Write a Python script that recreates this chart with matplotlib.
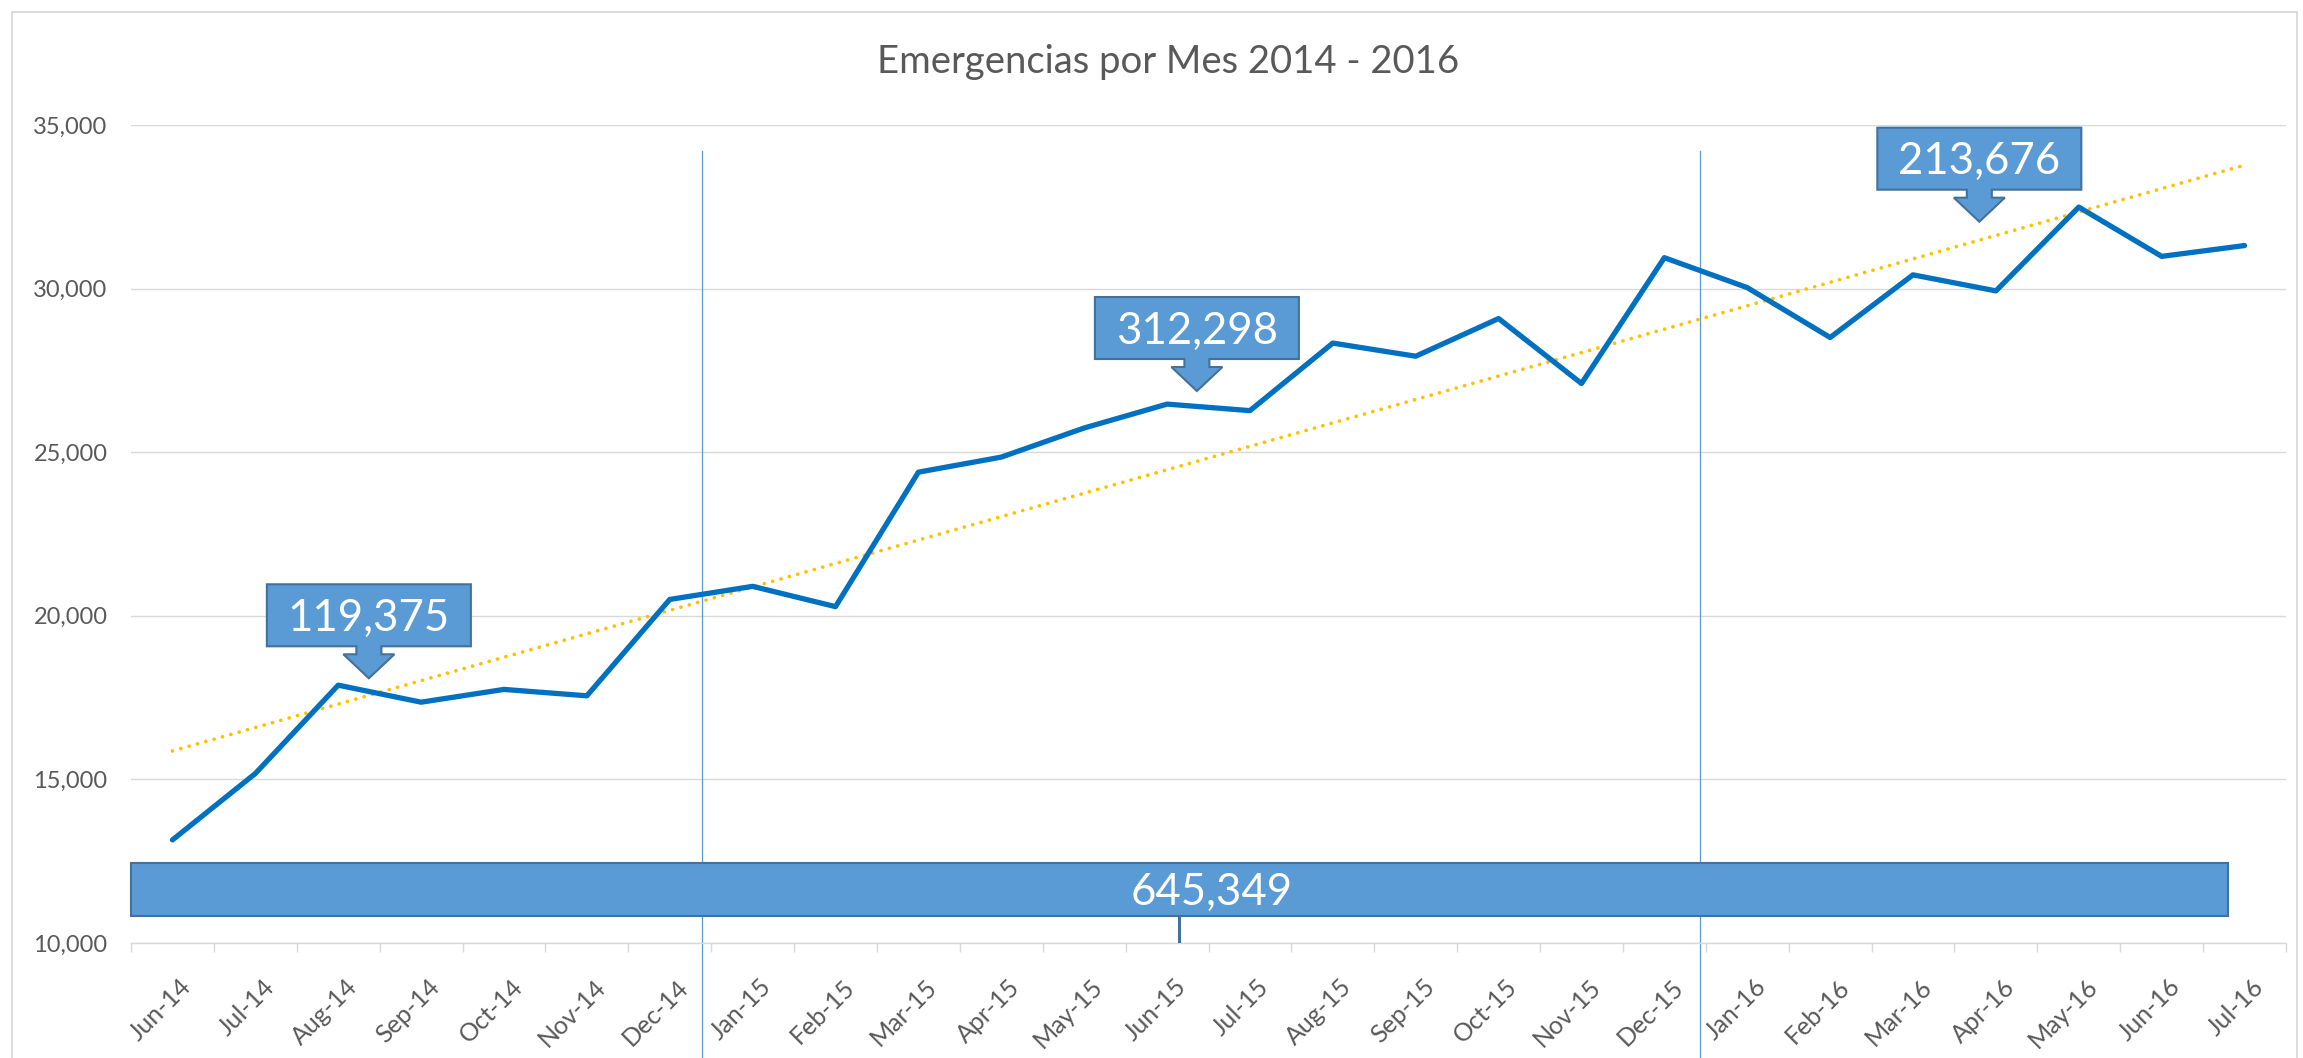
import matplotlib
matplotlib.use("Agg")

import matplotlib.pyplot as plt
import matplotlib.transforms as mtransforms
from matplotlib.patches import Polygon, Rectangle
import numpy as np

# --- Datos ---
meses = ["Jun-14", "Jul-14", "Aug-14", "Sep-14", "Oct-14", "Nov-14", "Dec-14",
         "Jan-15", "Feb-15", "Mar-15", "Apr-15", "May-15", "Jun-15", "Jul-15",
         "Aug-15", "Sep-15", "Oct-15", "Nov-15", "Dec-15",
         "Jan-16", "Feb-16", "Mar-16", "Apr-16", "May-16", "Jun-16", "Jul-16"]
emergencias = [13150, 15180, 17880, 17360, 17750, 17555, 20500,
               20900, 20280, 24390, 24850, 25740, 26470, 26270,
               28335, 27933, 29085, 27100, 30945,
               30030, 28505, 30420, 29930, 32490, 30985, 31316]
meses_por_anio = [7, 12, 7]          # 2014, 2015, 2016
titulo = "Emergencias por Mes 2014 - 2016"

# separadores de año (posición en categorías) y puntas de las flechas
separadores = [6.39, 18.43]
puntas_flecha = [(2.37, 18090), (12.36, 26870), (21.80, 32045)]

# --- Colores ---
azul_linea = "#0070C0"
azul_forma = "#5B9BD5"
azul_borde = "#41719C"
dorado = "#FFC000"
gris_grid = "#D9D9D9"
gris_texto = "#595959"

plt.rcParams['font.family'] = ['Lato', 'DejaVu Sans']

W, H = 2303, 1058
fig = plt.figure(figsize=(W / 100, H / 100), dpi=100)
ax = fig.add_axes([131 / W, 1 - 943 / H, (2286 - 131) / W, 818 / H])

x = np.arange(len(meses))
y = np.array(emergencias)

ax.set_xlim(-0.5, len(meses) - 0.5)
ax.set_ylim(10000, 35000)

# separadores verticales (formas de Excel que se salen del área)
for sx in separadores:
    ax.plot([sx, sx], [34205, 5000], color=azul_forma, lw=0.9, clip_on=False, zorder=1)

# serie principal
ax.plot(x, y, color=azul_linea, lw=3.8, solid_capstyle='round', solid_joinstyle='round', zorder=4)

# línea de tendencia lineal
m, b = np.polyfit(x, y, 1)
ax.plot(x, m * x + b, color=dorado, lw=2.7, linestyle=(0, (0.01, 2.3)),
        dash_capstyle='round', zorder=3)

# --- Ejes ---
ax.set_yticks(np.arange(10000, 35001, 5000))
ax.set_yticklabels([f"{v:,}" for v in range(10000, 35001, 5000)])
ax.grid(axis='y', color=gris_grid, lw=1.0)
ax.set_axisbelow(True)
for s in ['left', 'top', 'right']:
    ax.spines[s].set_visible(False)
ax.spines['bottom'].set_color(gris_grid)
ax.spines['bottom'].set_linewidth(1.0)

ax.set_xticks(np.arange(-0.5, len(meses), 1))
ax.set_xticklabels([])
ax.set_xticks(x, minor=True)
ax.set_xticklabels(meses, minor=True, rotation=45, ha='right', rotation_mode='anchor')
ax.tick_params(axis='x', which='major', length=6.5, width=1.0, color=gris_grid)
ax.tick_params(axis='x', which='minor', length=0, pad=23, labelsize=18, labelcolor=gris_texto)
ax.tick_params(axis='y', length=0, pad=17, labelsize=17, labelcolor=gris_texto)
desplazamiento = mtransforms.ScaledTranslation(0.07, 0, fig.dpi_scale_trans)
for lab in ax.get_xticklabels(minor=True):
    lab.set_transform(lab.get_transform() + desplazamiento)

# título
fig.text(1168 / W, 1 - 62 / H, titulo, ha='center', va='center', fontsize=27.5, color=gris_texto)

# borde del gráfico
fig.patches.append(Rectangle((12 / W, -0.02), (2297 - 12) / W, 1.02 - 12 / H,
                             transform=fig.transFigure, fill=False, ec=gris_grid, lw=1.3))

# --- Totales por año ---
limites = np.cumsum([0] + meses_por_anio)
totales = [int(y[limites[i]:limites[i + 1]].sum()) for i in range(len(meses_por_anio))]
identidad = mtransforms.IdentityTransform()
alto_digito = 31


def flecha(ax, punta, texto):
    px, py = ax.transData.transform(punta)
    bw, bh, gap, cuello, cabeza, tallo = 102, 62, 32, 24, 25.5, 12.5
    verts = [(px - bw, py + gap + bh), (px + bw, py + gap + bh), (px + bw, py + gap),
             (px + tallo, py + gap), (px + tallo, py + cuello), (px + cabeza, py + cuello),
             (px, py), (px - cabeza, py + cuello), (px - tallo, py + cuello),
             (px - tallo, py + gap), (px - bw, py + gap)]
    ax.add_patch(Polygon(verts, closed=True, fc=azul_forma, ec=azul_borde, lw=1.5,
                         transform=identidad, clip_on=False, zorder=6))
    ax.text(px, py + gap + bh / 2 - alto_digito / 2, texto, transform=identidad,
            ha='center', va='baseline', fontsize=31.5, color='white', zorder=7)


for punta, total in zip(puntas_flecha, totales):
    flecha(ax, punta, f"{total:,}")

# barra del total general
barra_x0, barra_x1 = -0.5, 24.80
barra_y0, barra_y1 = 10838, 12430
ax.add_patch(Rectangle((barra_x0, barra_y0), barra_x1 - barra_x0, barra_y1 - barra_y0,
                       fc=azul_forma, ec=azul_borde, lw=1.5, clip_on=False, zorder=6))
ax.plot([12.14, 12.14], [barra_y0, 10073], color=azul_borde, lw=2.2, zorder=6)
cx, cy = ax.transData.transform((12.54, (barra_y0 + barra_y1) / 2))
ax.text(cx, cy - alto_digito / 2, f"{sum(totales):,}", transform=identidad,
        ha='center', va='baseline', fontsize=31.5, color='white', zorder=7)

plt.savefig("out.png", dpi=100)
